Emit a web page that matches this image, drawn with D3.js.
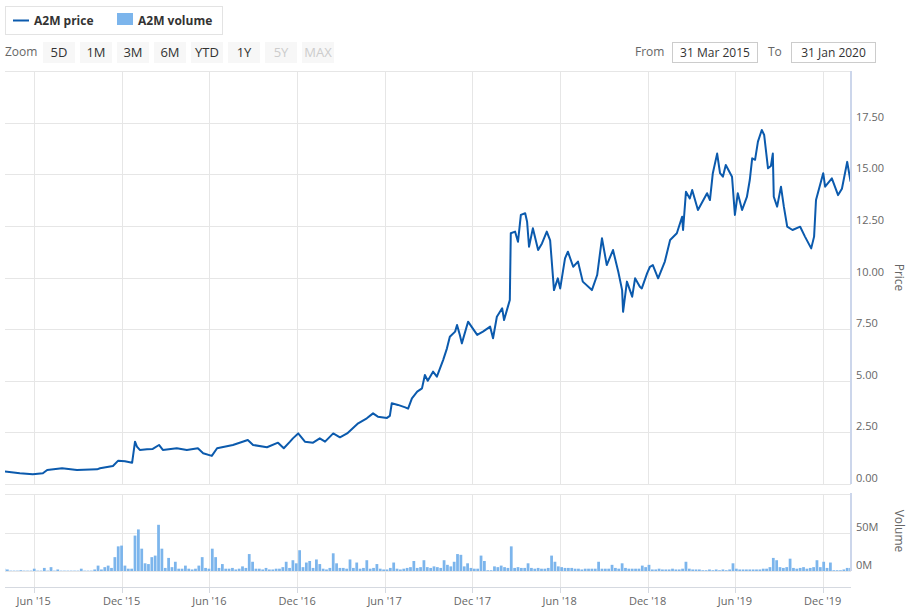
<!DOCTYPE html>
<html>
<head>
<meta charset="utf-8">
<script src="https://cdn.jsdelivr.net/npm/d3@7"></script>
<style>
  body { margin: 0; background: #fff; }
  svg { font-family: "Open Sans", sans-serif; display: block; }
</style>
</head>
<body>
<div class="canvas"></div>
<script>

// ---- data ----
const seriesNames = ['A2M price', 'A2M volume'];

const priceDates = [
  '2015-04-02','2015-05-03','2015-05-30','2015-06-20','2015-06-29','2015-07-30','2015-08-30','2015-10-11','2015-10-17','2015-11-13','2015-11-24','2015-12-08','2015-12-23','2015-12-29',
  '2016-01-02','2016-01-08','2016-01-23','2016-02-04','2016-02-17','2016-02-25','2016-03-25','2016-04-15','2016-05-08','2016-05-19','2016-06-06','2016-06-17','2016-07-20','2016-08-20','2016-08-31','2016-09-29','2016-10-22','2016-11-03','2016-11-16','2016-11-22','2016-12-03','2016-12-17',
  '2017-01-03','2017-01-17','2017-01-28','2017-02-14','2017-02-28','2017-03-15','2017-04-07','2017-04-25','2017-05-08','2017-05-18','2017-06-06','2017-06-12','2017-06-16','2017-06-29','2017-07-14','2017-07-20','2017-07-28','2017-08-08','2017-08-18','2017-08-24','2017-08-30','2017-09-10','2017-09-18','2017-10-01','2017-10-09','2017-10-15','2017-10-26','2017-10-30','2017-11-05','2017-11-09','2017-11-22','2017-12-11','2017-12-23',
  '2018-01-07','2018-01-13','2018-01-21','2018-02-01','2018-02-05','2018-02-13','2018-02-17','2018-02-19','2018-02-28','2018-03-06','2018-03-12','2018-03-21','2018-03-25','2018-03-29','2018-04-06','2018-04-17','2018-04-25','2018-05-05','2018-05-12','2018-05-20','2018-05-28','2018-06-02','2018-06-12','2018-06-18','2018-06-29','2018-07-09','2018-07-19','2018-08-07','2018-08-18','2018-08-28','2018-09-07','2018-09-20','2018-10-01','2018-10-09','2018-10-11','2018-10-19','2018-10-30','2018-11-05','2018-11-15','2018-11-19','2018-11-30','2018-12-06','2018-12-12','2018-12-23',
  '2019-01-06','2019-01-17','2019-01-31','2019-02-11','2019-02-13','2019-02-19','2019-02-27','2019-03-04','2019-03-16','2019-04-04','2019-04-10','2019-04-16','2019-04-25','2019-05-01','2019-05-07','2019-05-13','2019-05-26','2019-06-01','2019-06-07','2019-06-16','2019-06-26','2019-07-02','2019-07-07','2019-07-13','2019-07-19','2019-07-27','2019-08-01','2019-08-09','2019-08-15','2019-08-19','2019-08-21','2019-08-28','2019-09-05','2019-09-11','2019-09-18','2019-09-29','2019-10-15','2019-10-25','2019-11-07','2019-11-13','2019-11-17','2019-12-02','2019-12-06','2019-12-20',
  '2020-01-02','2020-01-10','2020-01-21','2020-01-28'
];

const priceValues = [
  0.60,0.52,0.47,0.52,0.68,0.76,0.68,0.71,0.76,0.87,1.13,1.10,1.03,2.05,
  1.81,1.65,1.68,1.70,1.89,1.65,1.73,1.65,1.73,1.49,1.36,1.73,1.89,2.13,1.89,1.78,2.00,1.73,2.05,2.21,2.45,2.05,
  2.00,2.21,2.05,2.45,2.26,2.45,2.94,3.18,3.42,3.26,3.20,3.30,3.91,3.83,3.71,3.65,4.15,4.47,4.63,5.28,5.00,5.44,5.20,6.00,6.57,7.13,7.38,7.70,7.20,6.81,7.86,7.22,7.38,
  7.62,7.06,8.10,8.51,7.94,8.59,8.91,12.14,12.22,11.73,13.03,13.11,12.70,11.49,12.38,11.33,11.65,12.22,11.80,9.39,9.96,9.47,10.93,11.25,10.52,10.77,9.80,9.39,10.12,11.90,10.60,11.33,10.28,9.39,8.34,9.80,9.07,9.96,9.55,9.47,10.20,10.52,10.60,9.96,
  10.77,11.82,12.14,12.94,12.30,14.15,13.83,14.24,13.27,14.08,13.75,15.05,16.00,15.05,14.88,15.45,14.88,13.03,14.08,13.27,13.90,14.72,15.77,15.70,16.58,17.14,16.90,15.29,15.40,16.00,13.91,13.43,14.40,13.43,12.46,12.30,12.46,11.98,11.41,11.98,13.75,15.05,14.40,14.80,
  13.99,14.30,15.60,14.64
];

// weekly volume (millions), one bar per 7 days from the range start
const volumeStart = '2015-03-31';
const volumeValues = [
  3,2,0.5,0.5,0.5,1,0.5,0.5,0.5,3,
  0.5,0.5,4,0.5,5,0.5,2,0.5,0.5,0.5,
  0.5,0.5,0.5,3,0.5,0.5,0.5,2,7,2,
  5,7,4,18,32,33,7,3,3,46,
  54,29,10,9,18,20,60,29,4,17,
  5,12,3,3,7,3,2,3,7,18,
  4,3,29,18,4,9,3,3,4,2,
  3,6,4,22,12,3,3,2,4,2,
  2,3,3,5,12,4,14,10,27,5,
  11,13,4,15,9,3,2,4,23,10,
  4,4,3,15,4,11,3,4,14,3,
  4,9,3,2,2,4,11,3,2,3,
  4,5,13,4,5,14,5,4,6,5,
  4,14,8,6,12,22,21,6,10,4,
  3,3,20,13,1,1,6,5,7,5,
  4,32,4,5,4,4,10,4,3,4,
  3,3,4,20,12,6,5,4,4,4,
  3,3,2,3,3,3,3,12,3,3,
  3,8,4,3,10,4,3,3,3,3,
  7,5,8,2,2,3,2,2,2,3,
  2,2,3,12,3,2,2,2,1,1,
  2,1,2,1,2,1,2,10,3,2,
  2,2,2,2,2,2,3,3,5,17,
  14,5,4,5,16,4,3,4,5,3,
  4,5,14,5,12,4,11,1,1,1,
  2,4,4
];

const priceTicks = [0, 2.5, 5, 7.5, 10, 12.5, 15, 17.5, 20];
const volumeTicks = [0, 50, 100];
const xTickDates = ['2015-06-01','2015-12-01','2016-06-01','2016-12-01','2017-06-01','2017-12-01','2018-06-01','2018-12-01','2019-06-01','2019-12-01'];
const zoomButtons = ['5D', '1M', '3M', '6M', 'YTD', '1Y', '5Y', 'MAX'];
const disabledButtons = ['5Y', 'MAX'];
const rangeStart = '2015-03-31', rangeEnd = '2020-01-31';

let dims, svg, x, yPrice, yVol, parse;

const initDims = () => {
  dims = {
    width: 909, height: 608,
    left: 5, right: 851,
    priceTop: 71, priceBottom: 484,
    volTop: 494, volBottom: 571, axisY: 587
  };
  parse = d3.timeParse('%Y-%m-%d');
};

const initSvg = () => {
  svg = d3.select('.canvas')
    .append('svg')
    .attr('width', dims.width)
    .attr('height', dims.height);

  svg.append('clipPath').attr('id', 'plotClip')
    .append('rect')
    .attr('x', dims.left).attr('y', 0)
    .attr('width', dims.right - dims.left).attr('height', dims.height);
};

const initScales = () => {
  // slightly wider than the plot so the ticks line up with the picture
  x = d3.scaleTime()
    .domain([parse(rangeStart), parse(rangeEnd)])
    .range([4, 852]);

  yPrice = d3.scaleLinear().domain([0, 20]).range([dims.priceBottom, dims.priceTop]);
  yVol = d3.scaleLinear().domain([0, 100]).range([dims.volBottom, dims.volTop]);
};

// legend box, zoom buttons and the from / to boxes
const drawHeader = () => {
  const lg = svg.append('g');
  lg.append('rect')
    .attr('x', 5.5).attr('y', 6.5).attr('width', 217).attr('height', 28)
    .attr('fill', '#fff').attr('stroke', '#e3e3e3');

  lg.append('line')
    .attr('x1', 13).attr('x2', 29).attr('y1', 20.5).attr('y2', 20.5)
    .attr('stroke', '#0b5aad').attr('stroke-width', 2);
  lg.append('text').attr('x', 34).attr('y', 24.5).text(seriesNames[0])
    .attr('font-size', 12).attr('font-weight', 'bold').attr('fill', '#333');

  lg.append('rect')
    .attr('x', 117).attr('y', 13).attr('width', 16).attr('height', 12)
    .attr('fill', '#7cb5ec');
  lg.append('text').attr('x', 138).attr('y', 24.5).text(seriesNames[1])
    .attr('font-size', 12).attr('font-weight', 'bold').attr('fill', '#333');

  // zoom buttons
  svg.append('text').attr('x', 5).attr('y', 56).text('Zoom')
    .attr('font-size', 12).attr('fill', '#666');

  const btn = svg.selectAll('.btn')
    .data(zoomButtons)
    .enter().append('g')
    .attr('class', 'btn')
    .attr('transform', (d, i) => `translate(${43 + i * 37}, 42)`);

  btn.append('rect')
    .attr('width', 32).attr('height', 21)
    .attr('fill', '#f7f7f7');
  btn.append('text')
    .attr('x', 16).attr('y', 15)
    .attr('text-anchor', 'middle')
    .attr('font-size', 13)
    .attr('fill', d => disabledButtons.includes(d) ? '#cccccc' : '#333')
    .text(d => d);

  // range inputs
  const fmt = d3.timeFormat('%d %b %Y');
  const inputs = [
    {label: 'From', lx: 635, bx: 672.5, bw: 85, value: fmt(parse(rangeStart))},
    {label: 'To', lx: 768, bx: 791.5, bw: 84, value: fmt(parse(rangeEnd))}
  ];
  inputs.forEach(inp => {
    svg.append('text').attr('x', inp.lx).attr('y', 56).text(inp.label)
      .attr('font-size', 12).attr('fill', '#666');
    svg.append('rect')
      .attr('x', inp.bx).attr('y', 42.5).attr('width', inp.bw).attr('height', 20)
      .attr('fill', 'none').attr('stroke', '#cccccc');
    svg.append('text').attr('x', inp.bx + inp.bw / 2).attr('y', 56.5)
      .attr('text-anchor', 'middle')
      .attr('font-size', 12).attr('fill', '#333').text(inp.value);
  });
};

const drawGrid = () => {
  const ticks = xTickDates.map(parse);
  const grid = svg.append('g').attr('stroke', '#e6e6e6').attr('stroke-width', 1);

  // vertical lines in both panes
  grid.selectAll('.vp').data(ticks).enter().append('line')
    .attr('x1', d => Math.round(x(d)) + 0.5).attr('x2', d => Math.round(x(d)) + 0.5)
    .attr('y1', dims.priceTop).attr('y2', dims.priceBottom);
  grid.selectAll('.vv').data(ticks).enter().append('line')
    .attr('x1', d => Math.round(x(d)) + 0.5).attr('x2', d => Math.round(x(d)) + 0.5)
    .attr('y1', dims.volTop).attr('y2', dims.axisY);

  // horizontal lines
  grid.selectAll('.hp').data(priceTicks).enter().append('line')
    .attr('x1', dims.left).attr('x2', dims.right)
    .attr('y1', d => Math.round(yPrice(d)) + 0.5).attr('y2', d => Math.round(yPrice(d)) + 0.5);
  grid.selectAll('.hv').data(volumeTicks).enter().append('line')
    .attr('x1', dims.left).attr('x2', dims.right)
    .attr('y1', d => Math.round(yVol(d)) + 0.5).attr('y2', d => Math.round(yVol(d)) + 0.5);

  // bottom axis line and ticks
  svg.append('line')
    .attr('x1', dims.left).attr('x2', dims.right)
    .attr('y1', dims.axisY + 0.5).attr('y2', dims.axisY + 0.5)
    .attr('stroke', '#d5d9e0');
  svg.selectAll('.xt').data(ticks).enter().append('line')
    .attr('x1', d => Math.round(x(d)) + 0.5).attr('x2', d => Math.round(x(d)) + 0.5)
    .attr('y1', dims.axisY).attr('y2', dims.axisY + 6)
    .attr('stroke', '#d5d9e0');

  const xFmt = d3.timeFormat("%b '%y");
  svg.selectAll('.xl').data(ticks).enter().append('text')
    .attr('x', d => x(d)).attr('y', 605)
    .attr('text-anchor', 'middle')
    .attr('font-size', 11).attr('fill', '#666')
    .text(xFmt);
};

const drawRightAxes = () => {
  // axis lines
  svg.append('line')
    .attr('x1', dims.right).attr('x2', dims.right)
    .attr('y1', dims.priceTop).attr('y2', dims.priceBottom)
    .attr('stroke', '#ccd6eb').attr('stroke-width', 2);
  svg.append('line')
    .attr('x1', dims.right).attr('x2', dims.right)
    .attr('y1', dims.volTop - 1).attr('y2', dims.volBottom)
    .attr('stroke', '#ccd6eb').attr('stroke-width', 2);

  svg.selectAll('.pl').data(priceTicks.filter(d => d < 20)).enter().append('text')
    .attr('x', 856).attr('y', d => yPrice(d) - 2)
    .attr('font-size', 11).attr('fill', '#666')
    .text(d3.format('.2f'));

  svg.selectAll('.vl').data(volumeTicks.filter(d => d < 100)).enter().append('text')
    .attr('x', 856).attr('y', d => yVol(d) - 2)
    .attr('font-size', 11).attr('fill', '#666')
    .text(d => d + 'M');

  // axis titles
  svg.append('text')
    .attr('transform', `translate(899, ${(dims.priceTop + dims.priceBottom) / 2}) rotate(90)`)
    .attr('text-anchor', 'middle').attr('dominant-baseline', 'central')
    .attr('font-size', 12).attr('fill', '#666').text('Price');
  svg.append('text')
    .attr('transform', `translate(899, 531) rotate(90)`)
    .attr('text-anchor', 'middle').attr('dominant-baseline', 'central')
    .attr('font-size', 12).attr('fill', '#666').text('Volume');
};

const drawSeries = () => {
  // volume bars
  const vStart = parse(volumeStart);
  const volData = volumeValues.map((v, i) => ({date: d3.timeDay.offset(vStart, i * 7), value: v}));
  const step = x(d3.timeDay.offset(vStart, 7)) - x(vStart);

  svg.append('g').attr('clip-path', 'url(#plotClip)')
    .selectAll('rect').data(volData).enter().append('rect')
    .attr('x', d => x(d.date) - step / 2 + 0.3)
    .attr('width', step - 0.6)
    .attr('y', d => yVol(d.value))
    .attr('height', d => yVol(0) - yVol(d.value))
    .attr('fill', '#7cb5ec');

  // price line
  const priceData = priceDates.map((d, i) => ({date: parse(d), value: priceValues[i]}));
  const line = d3.line()
    .x(d => x(d.date))
    .y(d => yPrice(d.value));

  svg.append('path')
    .datum(priceData)
    .attr('clip-path', 'url(#plotClip)')
    .attr('d', line)
    .attr('fill', 'none')
    .attr('stroke', '#0b5aad')
    .attr('stroke-width', 2)
    .attr('stroke-linejoin', 'round');
};

const init = () => {
  initDims();
  initSvg();
  initScales();
  drawHeader();
  drawGrid();
  drawSeries();
  drawRightAxes();
};

init();
</script>
</body>
</html>
